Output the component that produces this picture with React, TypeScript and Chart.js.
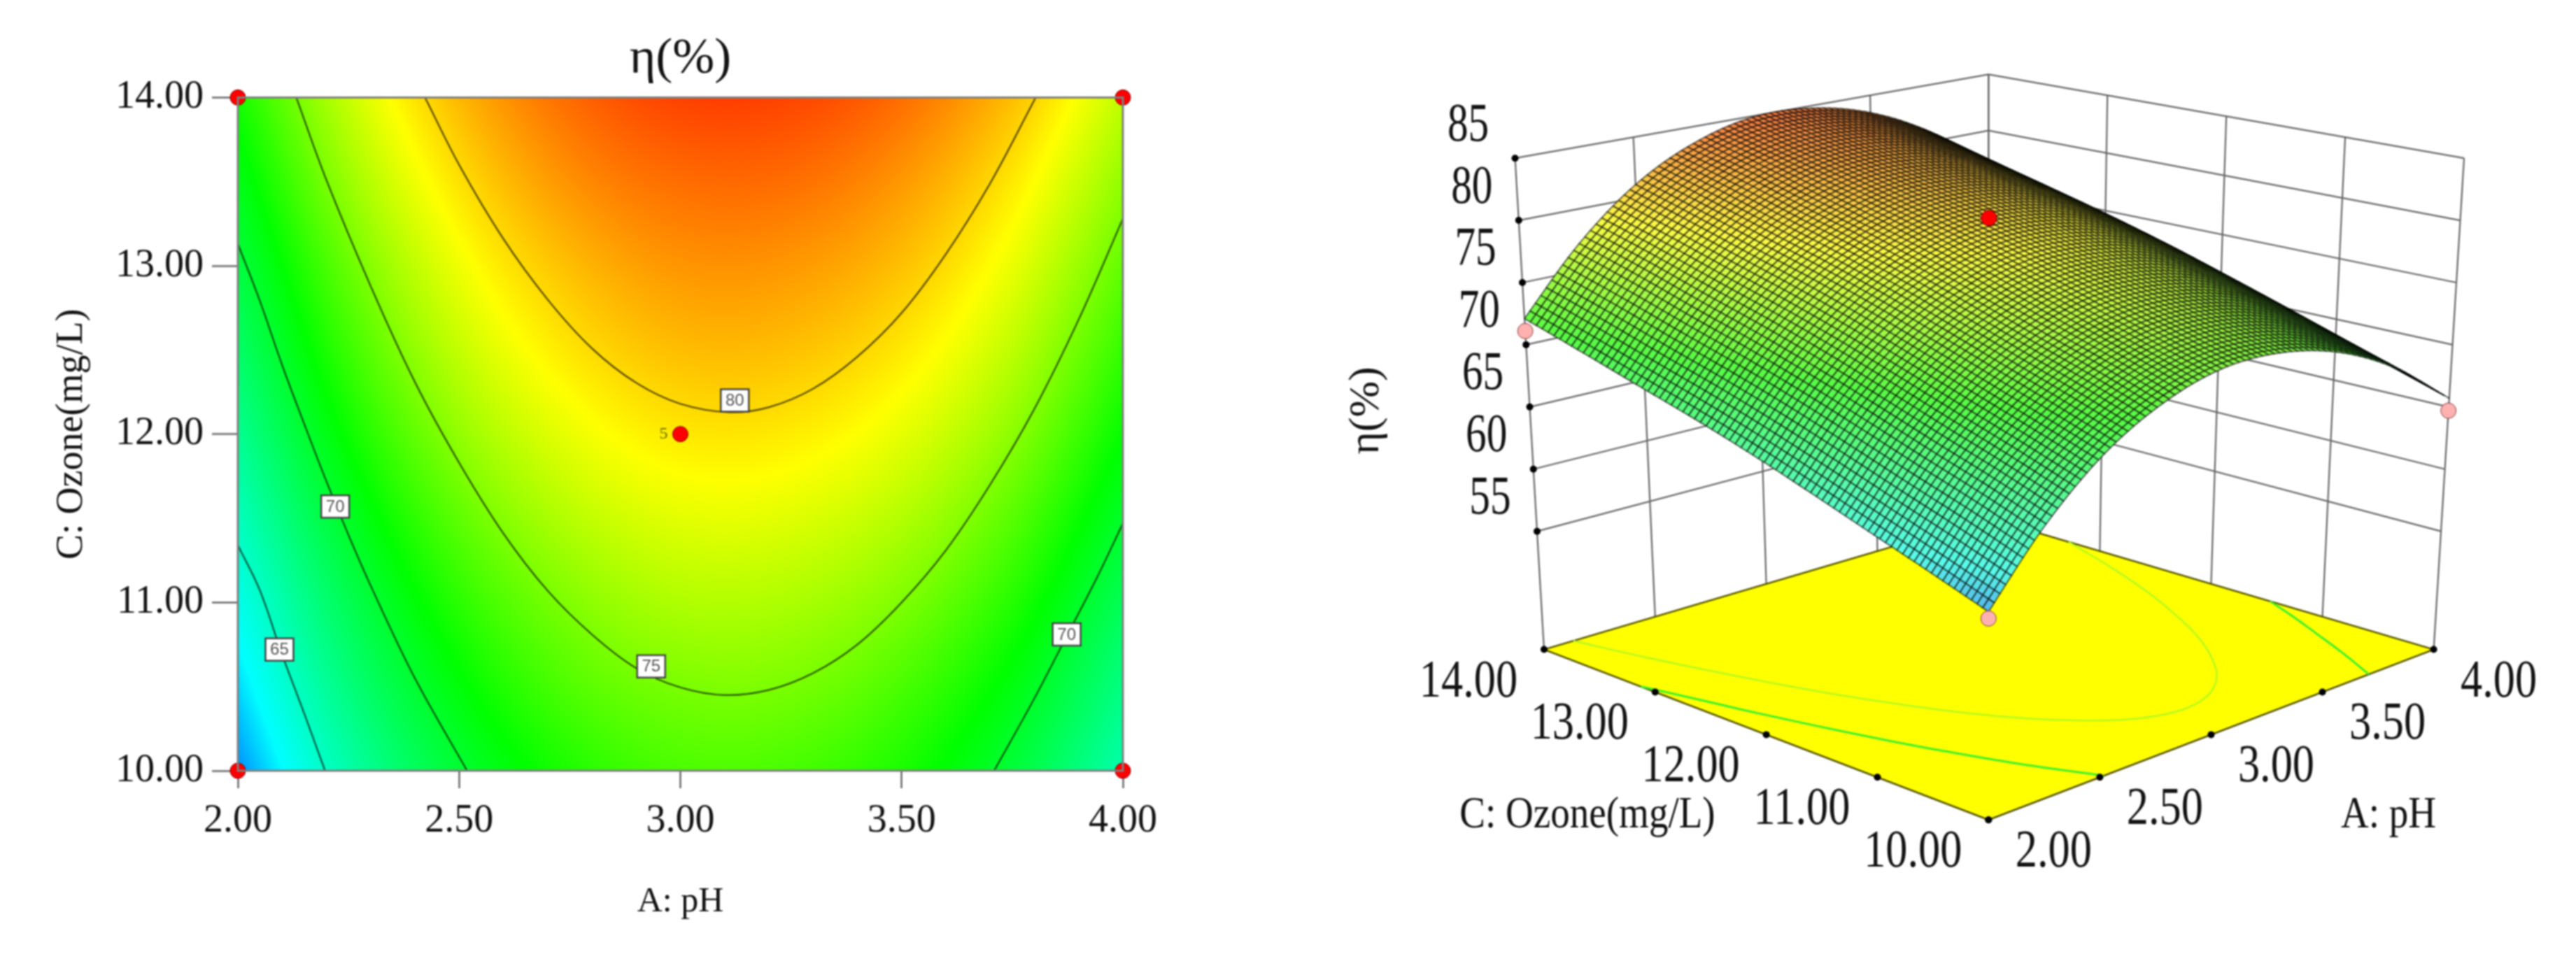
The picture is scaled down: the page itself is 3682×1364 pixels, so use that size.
import React, { useEffect, useRef } from "react";
import { Chart, registerables } from "chart.js";
Chart.register(...registerables);

const SERIF = "'Liberation Serif', 'Times New Roman', serif";

// ---- data ----
const pHTicks = [2, 2.5, 3, 3.5, 4];
const ozoneTicks = [10, 11, 12, 13, 14];
const etaTicks = [55, 60, 65, 70, 75, 80, 85];
const gridPH = [2, 2.25, 2.5, 2.75, 3, 3.25, 3.5, 3.75, 4];
const gridOzone = [10, 10.5, 11, 11.5, 12, 12.5, 13, 13.5, 14];
const etaGrid = [
  [60.8, 65.9, 69.8, 72.3, 73.6, 73.5, 72.2, 69.6, 65.7],
  [62.25, 67.4, 71.25, 73.8, 75.0, 74.95, 73.6, 71.0, 67.15],
  [63.7, 68.8, 72.7, 75.2, 76.5, 76.4, 75.1, 72.5, 68.6],
  [65.2, 70.3, 74.2, 76.7, 78.0, 77.9, 76.6, 74.0, 70.1],
  [66.7, 71.8, 75.7, 78.2, 79.5, 79.4, 78.1, 75.5, 71.6],
  [68.1, 73.2, 77.1, 79.6, 80.9, 80.8, 79.5, 76.9, 73.0],
  [69.4, 74.5, 78.4, 80.9, 82.2, 82.1, 80.8, 78.2, 74.3],
  [70.75, 75.9, 79.75, 82.3, 83.5, 83.45, 82.1, 79.5, 75.65],
  [72.1, 77.2, 81.1, 83.6, 84.9, 84.8, 83.5, 80.9, 77.0],
];
const contour80 = [[2.423,14],[2.5,13.6],[2.6,13.16],[2.7,12.8],[2.8,12.51],[2.9,12.305],[3.0,12.18],[3.11,12.13],[3.2,12.16],[3.3,12.27],[3.4,12.46],[3.5,12.72],[3.6,13.07],[3.7,13.49],[3.803,14]];
const contour75 = [[2.132,14],[2.2,13.51],[2.3,12.88],[2.4,12.31],[2.5,11.83],[2.6,11.41],[2.7,11.07],[2.8,10.81],[2.9,10.61],[3.0,10.495],[3.1,10.45],[3.2,10.48],[3.3,10.58],[3.4,10.75],[3.5,11.0],[3.6,11.31],[3.7,11.7],[3.8,12.15],[3.9,12.68],[4,13.28]];
const contour70L = [[2,13.13],[2.05,12.79],[2.1,12.41],[2.15,12.06],[2.2,11.72],[2.25,11.4],[2.3,11.1],[2.4,10.55],[2.518,10]];
const contour65 = [[2,11.34],[2.05,11.07],[2.1,10.69],[2.15,10.34],[2.197,10]];
const contour70R = [[4,11.47],[3.94,11.14],[3.875,10.81],[3.8,10.43],[3.709,10]];
const contourLabels = [
  { text: "80", pH: 3.123, ozone: 12.2 },
  { text: "75", pH: 2.934, ozone: 10.62 },
  { text: "70", pH: 2.22, ozone: 11.57 },
  { text: "65", pH: 2.094, ozone: 10.72 },
  { text: "70", pH: 3.873, ozone: 10.81 },
];
const designPoints2D = [[2,10],[2,14],[4,10],[4,14],[3,12]];
const centerPoint3D = [3, 12, 81];
const cornerPoints3D = [[2,14,71.1],[4,10,64.7],[2,10,60.3]];

// ---- colour ramp ----
const rampValues = [58, 63, 71.5, 78.8, 87];
const rampColors = [[0,0,255],[0,255,255],[0,255,0],[255,255,0],[255,0,0]];
function ramp(v: number) {
  if (v <= rampValues[0]) return rampColors[0];
  for (let i = 1; i < rampValues.length; i++) {
    if (v <= rampValues[i]) {
      const t = (v - rampValues[i-1]) / (rampValues[i] - rampValues[i-1]);
      const a = rampColors[i-1], b = rampColors[i];
      return [a[0]+(b[0]-a[0])*t, a[1]+(b[1]-a[1])*t, a[2]+(b[2]-a[2])*t];
    }
  }
  return rampColors[rampColors.length-1];
}

// smooth shading between the table's values, for painting only
function cubic(a: number, b: number, c: number, d: number, t: number) {
  return b + 0.5*t*(c-a + t*(2*a-5*b+4*c-d + t*(3*(b-c)+d-a)));
}
function at(r: number, c: number): number {
  const n = etaGrid.length, m = etaGrid[0].length;
  if (r < 0) return 2*at(0,c) - at(-r,c);
  if (r >= n) return 2*at(n-1,c) - at(2*(n-1)-r,c);
  if (c < 0) return 2*at(r,0) - at(r,-c);
  if (c >= m) return 2*at(r,m-1) - at(r,2*(m-1)-c);
  return etaGrid[r][c];
}
function etaAt(pH: number, oz: number) {
  const fx = (pH - gridPH[0]) / (gridPH[1]-gridPH[0]);
  const fy = (oz - gridOzone[0]) / (gridOzone[1]-gridOzone[0]);
  const cx = Math.min(Math.floor(fx), gridPH.length-2), cy = Math.min(Math.floor(fy), gridOzone.length-2);
  const tx = fx-cx, ty = fy-cy;
  const row = (r: number) => cubic(at(r,cx-1),at(r,cx),at(r,cx+1),at(r,cx+2),tx);
  return cubic(row(cy-1),row(cy),row(cy+1),row(cy+2),ty);
}

// ---- contour chart ----
const heatmapPlugin = {
  id: "heat",
  beforeDatasetsDraw(chart: any) {
    const { left, top, right, bottom } = chart.chartArea;
    const W = Math.round(right-left), H = Math.round(bottom-top);
    const img = chart.ctx.createImageData(W, H);
    const sx = chart.scales.x, sy = chart.scales.y;
    for (let j = 0; j < H; j++) {
      const oz = sy.getValueForPixel(top + j + 0.5);
      for (let i = 0; i < W; i++) {
        const c = ramp(etaAt(sx.getValueForPixel(left + i + 0.5), oz));
        const k = (j*W+i)*4;
        img.data[k] = c[0]; img.data[k+1] = c[1]; img.data[k+2] = c[2]; img.data[k+3] = 255;
      }
    }
    chart.ctx.putImageData(img, Math.round(left), Math.round(top));
  },
  afterDatasetsDraw(chart: any) {
    const ctx = chart.ctx, { left, top, right, bottom } = chart.chartArea;
    const sx = chart.scales.x, sy = chart.scales.y;
    ctx.save();
    ctx.strokeStyle = "#808080"; ctx.lineWidth = 3;
    ctx.strokeRect(left, top, right-left, bottom-top);
    ctx.textAlign = "center"; ctx.textBaseline = "middle";
    for (const l of contourLabels) {
      const x = sx.getPixelForValue(l.pH), y = sy.getPixelForValue(l.ozone);
      ctx.fillStyle = "#fff"; ctx.fillRect(x-20, y-16, 40, 32);
      ctx.strokeStyle = "#444"; ctx.lineWidth = 2.5; ctx.strokeRect(x-20, y-16, 40, 32);
      ctx.fillStyle = "#555"; ctx.font = "24px 'Liberation Sans Narrow','Liberation Sans',sans-serif";
      ctx.fillText(l.text, x, y+1);
    }
    ctx.fillStyle = "#666600"; ctx.font = "24px " + SERIF;
    ctx.fillText("5", sx.getPixelForValue(3)-24, sy.getPixelForValue(12));
    ctx.restore();
  },
};
const xy = (a: number[][]) => a.map(([x,y]) => ({ x, y }));
const contourDS = (a: number[][]) => ({ data: xy(a), showLine: true, pointRadius: 0, borderColor: "rgba(0,0,0,0.6)", borderWidth: 2.5, tension: 0.35 });

// ---- 3D box: trilinear map onto the eight corners of the cube, in page px of this canvas ----
const FLOOR = 45.5;
const boxFloor = { front: [943,1181], left: [299,933], right: [1588,933], back: [943,742] };
const boxTop = { front: [943,399], left: [257,218], right: [1632,218], back: [943,96] };
function project(pH: number, oz: number, eta: number) {
  const u = (pH-2)/2, v = (oz-10)/4, w = (eta-FLOOR)/(85-FLOOR);
  const bl = (q: any, i: number) => q.front[i]*(1-u)*(1-v) + q.right[i]*u*(1-v) + q.left[i]*(1-u)*v + q.back[i]*u*v;
  return { x: bl(boxFloor,0)*(1-w)+bl(boxTop,0)*w, y: bl(boxFloor,1)*(1-w)+bl(boxTop,1)*w };
}
const MESH = 80;
const line3D = (pts: number[][], color: string, width: number, order: number, tension = 0) => ({
  data: pts.map(p => project(p[0], p[1], p[2])), showLine: true, pointRadius: 0, borderColor: color, borderWidth: width, order, tension,
});
const text3D = (ctx: any, s: string, x: number, y: number, size: number, sx: number, rot = 0) => {
  ctx.save(); ctx.translate(x,y); if (rot) ctx.rotate(rot); ctx.scale(sx,1);
  ctx.font = `${size}px ${SERIF}`; ctx.fillStyle = "#111"; ctx.textAlign = "center"; ctx.textBaseline = "middle";
  ctx.fillText(s,0,0); ctx.restore();
};
const surfacePlugin = {
  id: "surface",
  afterDatasetDraw(chart: any, args: any) {
    if (!chart.data.datasets[args.index].surfaceBelow) return;
    const ctx = chart.ctx, sx = chart.scales.x, sy = chart.scales.y;
    const pts: any[][] = [], vals: number[][] = [];
    for (let i = 0; i <= MESH; i++) {
      pts[i] = []; vals[i] = [];
      for (let j = 0; j <= MESH; j++) {
        const pH = 2+2*i/MESH, oz = 10+4*j/MESH, e = etaAt(pH, oz);
        const p = project(pH, oz, e);
        pts[i][j] = [sx.getPixelForValue(p.x), sy.getPixelForValue(p.y)];
        vals[i][j] = e;
      }
    }
    ctx.save();
    ctx.lineWidth = 1.9; ctx.strokeStyle = "rgba(0,0,0,0.6)"; ctx.lineJoin = "round";
    for (let i = MESH-1; i >= 0; i--) for (let j = MESH-1; j >= 0; j--) {
      const c = ramp((vals[i][j]+vals[i+1][j]+vals[i][j+1]+vals[i+1][j+1])/4);
      const m = 0.36;
      ctx.fillStyle = `rgb(${c[0]*(1-m)+255*m*0.95},${c[1]*(1-m)+255*m*0.95},${c[2]*(1-m)+255*m*0.75})`;
      ctx.beginPath();
      ctx.moveTo(pts[i][j][0],pts[i][j][1]); ctx.lineTo(pts[i+1][j][0],pts[i+1][j][1]);
      ctx.lineTo(pts[i+1][j+1][0],pts[i+1][j+1][1]); ctx.lineTo(pts[i][j+1][0],pts[i][j+1][1]);
      ctx.closePath(); ctx.fill(); ctx.stroke();
    }
    ctx.restore();
  },
  afterDraw(chart: any) {
    const ctx = chart.ctx, sx = chart.scales.x, sy = chart.scales.y;
    const put = (pH: number, oz: number, eta: number, dx: number, dy: number, s: string, size: number, k: number) => {
      const p = project(pH,oz,eta);
      text3D(ctx, s, sx.getPixelForValue(p.x)+dx, sy.getPixelForValue(p.y)+dy, size, k);
    };
    for (const o of ozoneTicks) put(2,o,FLOOR,-108,47,o.toFixed(2),76,0.82);
    for (const p of pHTicks) put(p,10,FLOOR,93,47,p.toFixed(2),76,0.82);
    for (const e of etaTicks) put(2,14,e,-67,-46,String(e),78,0.76);
    text3D(ctx,"C: Ozone(mg/L)",369,1166,64,0.86);
    text3D(ctx,"A: pH",1514,1166,64,0.86);
    text3D(ctx,"η(%)",54,587,62,1,-Math.PI/2);
  },
};

export default function App() {
  const a = useRef<HTMLCanvasElement>(null);
  const b = useRef<HTMLCanvasElement>(null);
  useEffect(() => {
    const c1 = new Chart(a.current!, {
      type: "scatter",
      plugins: [heatmapPlugin],
      data: { datasets: [
        { data: xy(designPoints2D), pointRadius: 11, pointBackgroundColor: "#ff0000", pointBorderColor: "#7a0000", pointBorderWidth: 1, clip: false } as any,
        contourDS(contour80), contourDS(contour75), contourDS(contour70L), contourDS(contour65), contourDS(contour70R),
      ] },
      options: {
        animation: false, responsive: false, events: [],
        layout: { padding: { left: 0, top: 0, right: 195, bottom: 0 } },
        plugins: {
          legend: { display: false }, tooltip: { enabled: false },
          title: { display: true, fullSize: false, text: "η(%)", color: "#111", font: { family: SERIF, size: 72, weight: "normal" }, padding: { top: 42, bottom: 11 } },
        },
        scales: {
          x: {
            type: "linear", min: 2, max: 4,
            afterBuildTicks: (s: any) => { s.ticks = pHTicks.map(value => ({ value })); },
            afterFit: (s: any) => { s.height = 262; },
            ticks: { callback: (v: any) => Number(v).toFixed(2), color: "#111", font: { family: SERIF, size: 56 }, padding: 14, maxRotation: 0, autoSkip: false },
            grid: { drawOnChartArea: false, drawTicks: true, tickLength: 25, color: "#808080", lineWidth: 3 },
            border: { display: false },
            title: { display: true, text: "A: pH", color: "#111", font: { family: SERIF, size: 50 }, padding: { top: 0, bottom: 44 } },
          },
          y: {
            type: "linear", min: 10, max: 14,
            afterBuildTicks: (s: any) => { s.ticks = ozoneTicks.map(value => ({ value })); },
            afterFit: (s: any) => { s.width = 340; },
            ticks: { callback: (v: any) => Number(v).toFixed(2), color: "#111", font: { family: SERIF, size: 56 }, padding: 12, autoSkip: false },
            grid: { drawOnChartArea: false, drawTicks: true, tickLength: 37, color: "#808080", lineWidth: 3 },
            border: { display: false },
            title: { display: true, text: "C: Ozone(mg/L)", color: "#111", font: { family: SERIF, size: 54 }, padding: { top: 70, bottom: 0 } },
          },
        },
      } as any,
    });

    const gc = "#666666";
    const walls: any[] = [];
    for (const e of etaTicks) walls.push(line3D([[2,14,e],[4,14,e],[4,10,e]], gc, 2.2, 100));
    for (const p of pHTicks) walls.push(line3D([[p,14,FLOOR],[p,14,85]], gc, 2.2, 100));
    for (const o of ozoneTicks) walls.push(line3D([[4,o,FLOOR],[4,o,85]], gc, 2.2, 100));
    const tickDots = [
      ...etaTicks.map(e => project(2,14,e)),
      ...ozoneTicks.map(o => project(2,o,FLOOR)),
      ...pHTicks.map(p => project(p,10,FLOOR)),
    ];
    const onFloor = (c: number[][]) => c.map(([p,o]) => [p,o,FLOOR]);
    const c2 = new Chart(b.current!, {
      type: "scatter",
      plugins: [surfacePlugin],
      data: { datasets: [
        ...walls,
        { ...line3D([[2,10,FLOOR],[2,14,FLOOR],[4,14,FLOOR],[4,10,FLOOR],[2,10,FLOOR]], "#555500", 2.5, 90), fill: "shape", backgroundColor: "#ffff00" },
        line3D(onFloor(contour75), "#b4f820", 2.5, 80, 0.35),
        line3D(onFloor(contour70L), "#3cf02c", 3, 80, 0.35),
        { ...line3D(onFloor(contour70R), "#3cf02c", 3, 79, 0.35), surfaceBelow: true },
        { data: tickDots, pointRadius: 5, pointBackgroundColor: "#000", pointBorderWidth: 0, order: 70 },
        { data: cornerPoints3D.map(p => project(p[0],p[1],p[2])), pointRadius: 11, pointBackgroundColor: "#ffb0b0", pointBorderColor: "#804040", pointBorderWidth: 1, order: 2 },
        { data: [project(centerPoint3D[0],centerPoint3D[1],centerPoint3D[2])], pointRadius: 11, pointBackgroundColor: "#ff0000", pointBorderColor: "#800000", pointBorderWidth: 1, order: 1 },
      ] },
      options: {
        animation: false, responsive: false, events: [],
        layout: { padding: 0 },
        plugins: { legend: { display: false }, tooltip: { enabled: false }, title: { display: false } },
        scales: {
          x: { type: "linear", min: 0, max: 1782, display: false },
          y: { type: "linear", min: 0, max: 1364, reverse: true, display: false },
        },
      } as any,
    });
    return () => { c1.destroy(); c2.destroy(); };
  }, []);
  return (
    <div style={{ position: "fixed", left: 0, top: 0, width: 3682, height: 1364, background: "#fff", overflow: "hidden" }}>
      <canvas ref={a} width={1800} height={1364} style={{ position: "absolute", left: 0, top: 0, filter: "blur(0.8px)" }} />
      <canvas ref={b} width={1782} height={1364} style={{ position: "absolute", left: 1900, top: 0, filter: "blur(0.8px)" }} />
    </div>
  );
}
